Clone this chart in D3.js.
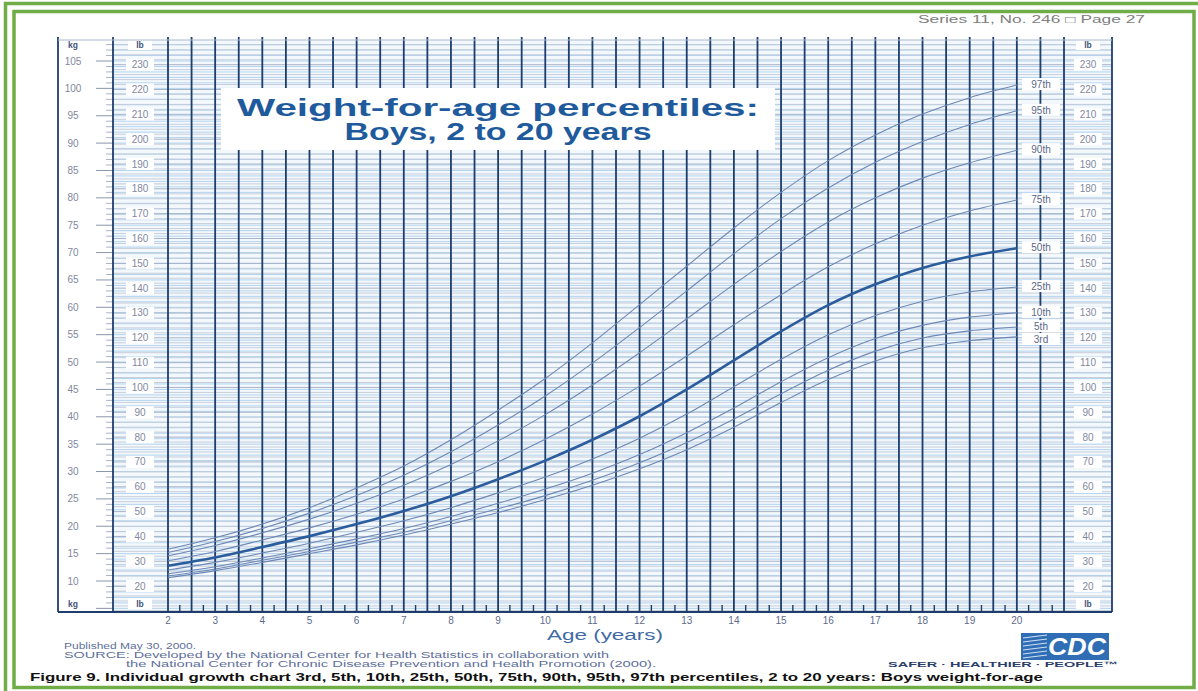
<!DOCTYPE html>
<html>
<head>
<meta charset="utf-8">
<script src="https://cdn.jsdelivr.net/npm/d3@7"></script>
<style>
  html, body { margin: 0; padding: 0; background: #fff; }
  svg { display: block; font-family: "Liberation Sans", Arial, sans-serif; }
</style>
</head>
<body>
<div id="chart"></div>
<script>
// ages (years) and percentile weights (kg)
const ages = [2,3,4,5,6,7,8,9,10,11,12,13,14,15,16,17,18,19,20];
const p97 = [15.8,17.9,20.4,23.4,27.0,31.0,35.8,41.2,47.0,53.5,60.5,67.5,74.5,81.0,86.8,91.5,95.3,98.3,100.6];
const p95 = [15.2,17.2,19.6,22.4,25.6,29.3,33.6,38.5,43.8,49.8,56.3,63.0,69.8,76.2,81.8,86.5,90.3,93.4,95.9];
const p90 = [14.6,16.5,18.8,21.3,24.2,27.5,31.3,35.6,40.4,45.8,51.7,57.9,64.2,70.2,75.6,80.0,83.6,86.4,88.7];
const p75 = [13.7,15.4,17.5,19.7,22.2,25.0,28.2,31.8,35.9,40.5,45.6,51.1,56.8,62.3,67.4,71.6,75.0,77.6,79.6];
const p50 = [12.8,14.3,16.2,18.2,20.4,22.8,25.5,28.6,32.0,35.8,40.1,45.0,50.3,55.6,60.4,64.2,67.2,69.3,70.8];
const p25 = [12.0,13.4,15.1,16.9,18.9,21.0,23.4,26.1,29.0,32.3,36.1,40.5,45.5,50.5,55.0,58.5,61.1,62.8,63.7];
const p10 = [11.3,12.6,14.2,15.9,17.7,19.6,21.8,24.2,26.8,29.7,33.1,37.1,41.6,46.4,50.8,54.3,56.7,58.2,59.0];
const p5  = [10.9,12.2,13.8,15.4,17.1,18.9,21.0,23.2,25.6,28.4,31.6,35.3,39.6,44.2,48.5,52.0,54.4,55.7,56.4];
const p3  = [10.6,11.9,13.4,15.0,16.6,18.4,20.4,22.5,24.9,27.5,30.5,34.0,38.1,42.6,46.8,50.2,52.6,53.9,54.6];

const percentileNames = ["97th","95th","90th","75th","50th","25th","10th","5th","3rd"];
const percentileSeries = [p97,p95,p90,p75,p50,p25,p10,p5,p3];

const kgTicks = d3.range(10, 106, 5);     // 10 .. 105
const lbTicks = d3.range(20, 231, 10);    // 20 .. 230
const ageTicks = d3.range(2, 21, 1);      // 2 .. 20

const KG2LB = 2.20462;
const W = 1198, H = 691;

const svg = d3.select("#chart").append("svg")
    .attr("width", W).attr("height", H);

// --- frame ---
const green = "#70ad47";
svg.append("rect").attr("x", 5.5).attr("y", 3.5).attr("width", W + 10).attr("height", H + 10)
    .attr("fill", "none").attr("stroke", green).attr("stroke-width", 3.5);
svg.append("rect").attr("x", 14).attr("y", 11.5).attr("width", 1180).attr("height", 676)
    .attr("fill", "none").attr("stroke", green).attr("stroke-width", 3.5);

// --- scales ---
const gridTop = 40, gridBottom = 612;
const x = d3.scaleLinear().domain([2, 21]).range([168, 1064]);
const y = d3.scaleLinear().domain([10, 105]).range([581, 61]);
const yLb = d3.scaleLinear().domain([10 * KG2LB, 105 * KG2LB]).range([581, 61]);

const kgColL = 58, kgColR = 113, rLbColR = 1112;
const navy = "#1d3d6c";

// grid background
svg.append("rect").attr("x", kgColR).attr("y", gridTop)
    .attr("width", rLbColR - kgColR).attr("height", gridBottom - gridTop)
    .attr("fill", "#f3f8fd");
svg.append("rect").attr("x", kgColL).attr("y", gridTop)
    .attr("width", kgColR - kgColL).attr("height", gridBottom - gridTop)
    .attr("fill", "#fff");

// horizontal grid lines: every kg and every 2 lb
const kgMin = y.invert(gridBottom), kgMax = y.invert(gridTop);
const kgLines = d3.range(Math.ceil(kgMin), Math.floor(kgMax) + 1);
const lbLines = d3.range(Math.ceil(kgMin * KG2LB / 2) * 2, kgMax * KG2LB, 2);

const hg = svg.append("g");
hg.selectAll("line.kg").data(kgLines).join("line")
    .attr("class", "kg")
    .attr("x1", kgColR).attr("x2", rLbColR)
    .attr("y1", d => y(d)).attr("y2", d => y(d))
    .attr("stroke", "#b3d4ee").attr("stroke-width", 1);
hg.selectAll("line.lb").data(lbLines).join("line")
    .attr("class", "lb")
    .attr("x1", kgColR).attr("x2", rLbColR)
    .attr("y1", d => yLb(d)).attr("y2", d => yLb(d))
    .attr("stroke", d => d % 10 === 0 ? "#a1abc0" : "#c3cad6").attr("stroke-width", 0.9);

// kg column ticks
const kgG = svg.append("g");
kgG.selectAll("line").data(kgLines).join("line")
    .attr("x1", d => d % 5 === 0 ? 96 : 106).attr("x2", kgColR)
    .attr("y1", d => y(d)).attr("y2", d => y(d))
    .attr("stroke", d => d % 5 === 0 ? "#8a95ab" : "#aab3c4").attr("stroke-width", 1);
kgG.selectAll("text").data(kgTicks).join("text")
    .attr("x", 73).attr("y", d => y(d) + 3.5)
    .attr("text-anchor", "middle").attr("font-size", 10)
    .attr("fill", "#7f88a0").text(d => d);

// lb labels (left and right)
[140, 1088].forEach(cx => {
  const g = svg.append("g");
  g.selectAll("rect").data(lbTicks).join("rect")
      .attr("x", cx - 14).attr("y", d => yLb(d) - 6)
      .attr("width", 28).attr("height", 12).attr("fill", "#fff");
  g.selectAll("text").data(lbTicks).join("text")
      .attr("x", cx).attr("y", d => yLb(d) + 3.5)
      .attr("text-anchor", "middle").attr("font-size", 10)
      .attr("fill", "#7f88a0").text(d => d);
});

// unit labels top and bottom
const units = [{t: "kg", x: 73}, {t: "lb", x: 140}, {t: "lb", x: 1088}];
[45, 604].forEach(yy => {
  const g = svg.append("g");
  g.selectAll("rect").data(units.filter(u => u.t === "lb")).join("rect")
      .attr("x", d => d.x - 12).attr("y", yy - 6).attr("width", 24).attr("height", 11)
      .attr("fill", "#fff");
  g.selectAll("text").data(units).join("text")
      .attr("x", d => d.x).attr("y", yy + 3)
      .attr("text-anchor", "middle").attr("font-size", 8.5).attr("font-weight", "bold")
      .attr("fill", "#45537a").text(d => d.t);
});

// vertical half-year lines
const halfYears = d3.range(2, 21.01, 0.5);
svg.append("g").selectAll("line").data(halfYears).join("line")
    .attr("x1", d => x(d)).attr("x2", d => x(d))
    .attr("y1", gridTop - 3).attr("y2", gridBottom)
    .attr("stroke", navy).attr("stroke-width", 1.8);

// column borders
[kgColL, kgColR, rLbColR].forEach(xx => {
  svg.append("line").attr("x1", xx).attr("x2", xx)
      .attr("y1", gridTop - 3).attr("y2", gridBottom)
      .attr("stroke", navy).attr("stroke-width", 1.8);
});
svg.append("line").attr("x1", kgColL).attr("x2", rLbColR)
    .attr("y1", gridTop).attr("y2", gridTop)
    .attr("stroke", "#a9b8cf").attr("stroke-width", 1);
svg.append("line").attr("x1", kgColL).attr("x2", rLbColR)
    .attr("y1", gridBottom).attr("y2", gridBottom)
    .attr("stroke", navy).attr("stroke-width", 2);

// quarter-year ticks at the bottom
const quarters = d3.range(2.25, 21, 0.5);
svg.append("g").selectAll("line").data(quarters).join("line")
    .attr("x1", d => x(d)).attr("x2", d => x(d))
    .attr("y1", gridBottom - 7).attr("y2", gridBottom)
    .attr("stroke", navy).attr("stroke-width", 1.4);

// age labels
svg.append("g").selectAll("text").data(ageTicks).join("text")
    .attr("x", d => x(d)).attr("y", 624)
    .attr("text-anchor", "middle").attr("font-size", 10)
    .attr("fill", "#5d6a8c").text(d => d);
svg.append("text").attr("x", 605).attr("y", 640)
    .attr("text-anchor", "middle").attr("font-size", 14)
    .attr("fill", "#3f6aa6").attr("textLength", 116).attr("lengthAdjust", "spacingAndGlyphs")
    .text("Age (years)");

// title box
svg.append("rect").attr("x", 221).attr("y", 88).attr("width", 554).attr("height", 62)
    .attr("fill", "#fff");
svg.append("text").attr("x", 498).attr("y", 116)
    .attr("text-anchor", "middle").attr("font-size", 23).attr("font-weight", "bold")
    .attr("fill", "#1f5b9c").attr("textLength", 522).attr("lengthAdjust", "spacingAndGlyphs")
    .text("Weight-for-age percentiles:");
svg.append("text").attr("x", 498).attr("y", 140)
    .attr("text-anchor", "middle").attr("font-size", 23).attr("font-weight", "bold")
    .attr("fill", "#1f5b9c").attr("textLength", 307).attr("lengthAdjust", "spacingAndGlyphs")
    .text("Boys, 2 to 20 years");

// percentile curves
const line = d3.line()
    .x((d, i) => x(ages[i]))
    .y(d => y(d))
    .curve(d3.curveCatmullRom.alpha(0.5));

svg.append("g").selectAll("path").data(percentileSeries).join("path")
    .attr("d", d => line(d))
    .attr("fill", "none")
    .attr("stroke", (d, i) => percentileNames[i] === "50th" ? "#2b5c9c" : "#6d88b6")
    .attr("stroke-width", (d, i) => percentileNames[i] === "50th" ? 2.6 : 1.1);

// percentile labels (spread apart where they would collide)
const labelY = percentileSeries.map(s => y(s[s.length - 1]));
for (let i = 1; i < labelY.length; i++) {
  if (labelY[i] - labelY[i - 1] < 13) labelY[i] = labelY[i - 1] + 13;
}
const lg = svg.append("g");
lg.selectAll("rect").data(percentileNames).join("rect")
    .attr("x", 1022).attr("y", (d, i) => labelY[i] - 7)
    .attr("width", 38).attr("height", 12).attr("fill", "#fff");
lg.selectAll("text").data(percentileNames).join("text")
    .attr("x", 1041).attr("y", (d, i) => labelY[i] + 3)
    .attr("text-anchor", "middle").attr("font-size", 10)
    .attr("fill", "#5b6788").text(d => d);

// header and footer text
svg.append("text").attr("x", 918).attr("y", 23).attr("font-size", 10)
    .attr("fill", "#808080").attr("textLength", 227).attr("lengthAdjust", "spacingAndGlyphs")
    .text("Series 11, No. 246 \u25A1 Page 27");

const foot = svg.append("g").attr("fill", "#5e6f9a").attr("font-size", 8.5);
foot.append("text").attr("x", 64).attr("y", 649)
    .attr("textLength", 132).attr("lengthAdjust", "spacingAndGlyphs")
    .text("Published May 30, 2000.");
foot.append("text").attr("x", 64).attr("y", 658)
    .attr("textLength", 545).attr("lengthAdjust", "spacingAndGlyphs")
    .text("SOURCE: Developed by the National Center for Health Statistics in collaboration with");
foot.append("text").attr("x", 126).attr("y", 667)
    .attr("textLength", 530).attr("lengthAdjust", "spacingAndGlyphs")
    .text("the National Center for Chronic Disease Prevention and Health Promotion (2000).");

svg.append("text").attr("x", 30).attr("y", 681)
    .attr("font-size", 10).attr("font-weight", "bold").attr("fill", "#111")
    .attr("textLength", 1013).attr("lengthAdjust", "spacingAndGlyphs")
    .text("Figure 9. Individual growth chart 3rd, 5th, 10th, 25th, 50th, 75th, 90th, 95th, 97th percentiles, 2 to 20 years: Boys weight-for-age");

// CDC logo
const logo = svg.append("g").attr("transform", "translate(1021,633)");
logo.append("rect").attr("width", 88).attr("height", 27).attr("fill", "#2f6db5");
logo.selectAll("line").data(d3.range(0, 6)).join("line")
    .attr("x1", 2).attr("x2", 26).attr("y1", d => 5 + d * 4).attr("y2", d => 2 + d * 4)
    .attr("stroke", "#cfe0f4").attr("stroke-width", 1.2);
logo.append("text").attr("x", 56).attr("y", 22).attr("text-anchor", "middle")
    .attr("font-size", 24).attr("font-weight", "bold").attr("font-style", "italic")
    .attr("fill", "#fff").attr("textLength", 58).attr("lengthAdjust", "spacingAndGlyphs")
    .text("CDC");
svg.append("text").attr("x", 888).attr("y", 667)
    .attr("font-size", 7.5).attr("font-weight", "bold").attr("fill", "#2a3d6b")
    .attr("textLength", 230).attr("lengthAdjust", "spacingAndGlyphs")
    .text("SAFER \u00B7 HEALTHIER \u00B7 PEOPLE\u2122");
</script>
</body>
</html>
